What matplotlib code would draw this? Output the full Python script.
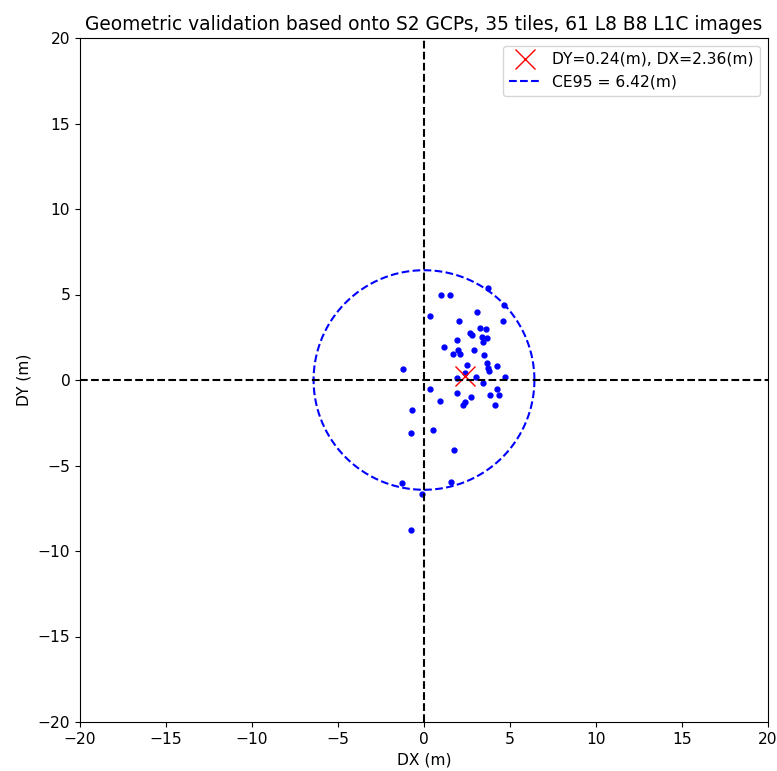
import numpy as np
import matplotlib.pyplot as plt

# residuals (m)
dx = [1.0, 1.51, 3.73, 4.67, 0.35, 3.06, 2.03, 4.61, 3.26, 3.6,
      2.67, 2.77, 3.35, 3.64, 3.45, 1.90, 1.18, 1.99, 1.70, 2.09,
      2.9, 3.48, -1.2, 3.68, 3.74, 3.80, 4.23, 2.48, 2.38, 3.0,
      1.94, 4.70, 3.45, 0.35, 4.23, 1.92, 2.73, 3.84, 4.36, 0.93,
      2.38, 2.28, 4.13, -0.68, -0.76, 0.54, 1.76, -1.28, 1.57, -0.13,
      -0.76]
dy = [5.0, 4.97, 5.36, 4.41, 3.73, 3.98, 3.47, 3.47, 3.02, 2.98,
      2.73, 2.63, 2.49, 2.44, 2.24, 2.34, 1.95, 1.75, 1.52, 1.52,
      1.75, 1.44, 0.63, 1.01, 0.72, 0.53, 0.80, 0.88, 0.39, 0.19,
      0.10, 0.16, -0.19, -0.53, -0.53, -0.78, -1.01, -0.89, -0.89, -1.23,
      -1.27, -1.46, -1.46, -1.75, -3.1, -2.92, -4.09, -6.05, -5.95, -6.64,
      -8.77]
mean_dx = 2.36
mean_dy = 0.24
ce95 = 6.42

plt.rcParams['font.size'] = 11.2

fig = plt.figure(figsize=(7.77, 7.71), dpi=100)
ax = fig.add_axes([80 / 777, 1 - 722 / 771, 688 / 777, 684 / 771])

ax.plot(dx, dy, 'b.', markersize=7)
ax.plot(mean_dx, mean_dy, 'rx', markersize=14, label='DY=0.24(m), DX=2.36(m)')
t = np.linspace(0, 2 * np.pi, 400)
ax.plot(ce95 * np.cos(t), ce95 * np.sin(t), 'b--', label='CE95 = 6.42(m)')
ax.axhline(0, color='k', linestyle='--')
ax.axvline(0, color='k', linestyle='--')

ax.set_xlim(-20, 20)
ax.set_ylim(-20, 20)
ax.set_xlabel('DX (m)')
ax.set_ylabel('DY (m)')
ax.set_title('Geometric validation based onto S2 GCPs, 35 tiles, 61 L8 B8 L1C images')
ax.legend(loc='upper right')

plt.savefig('out.png')
